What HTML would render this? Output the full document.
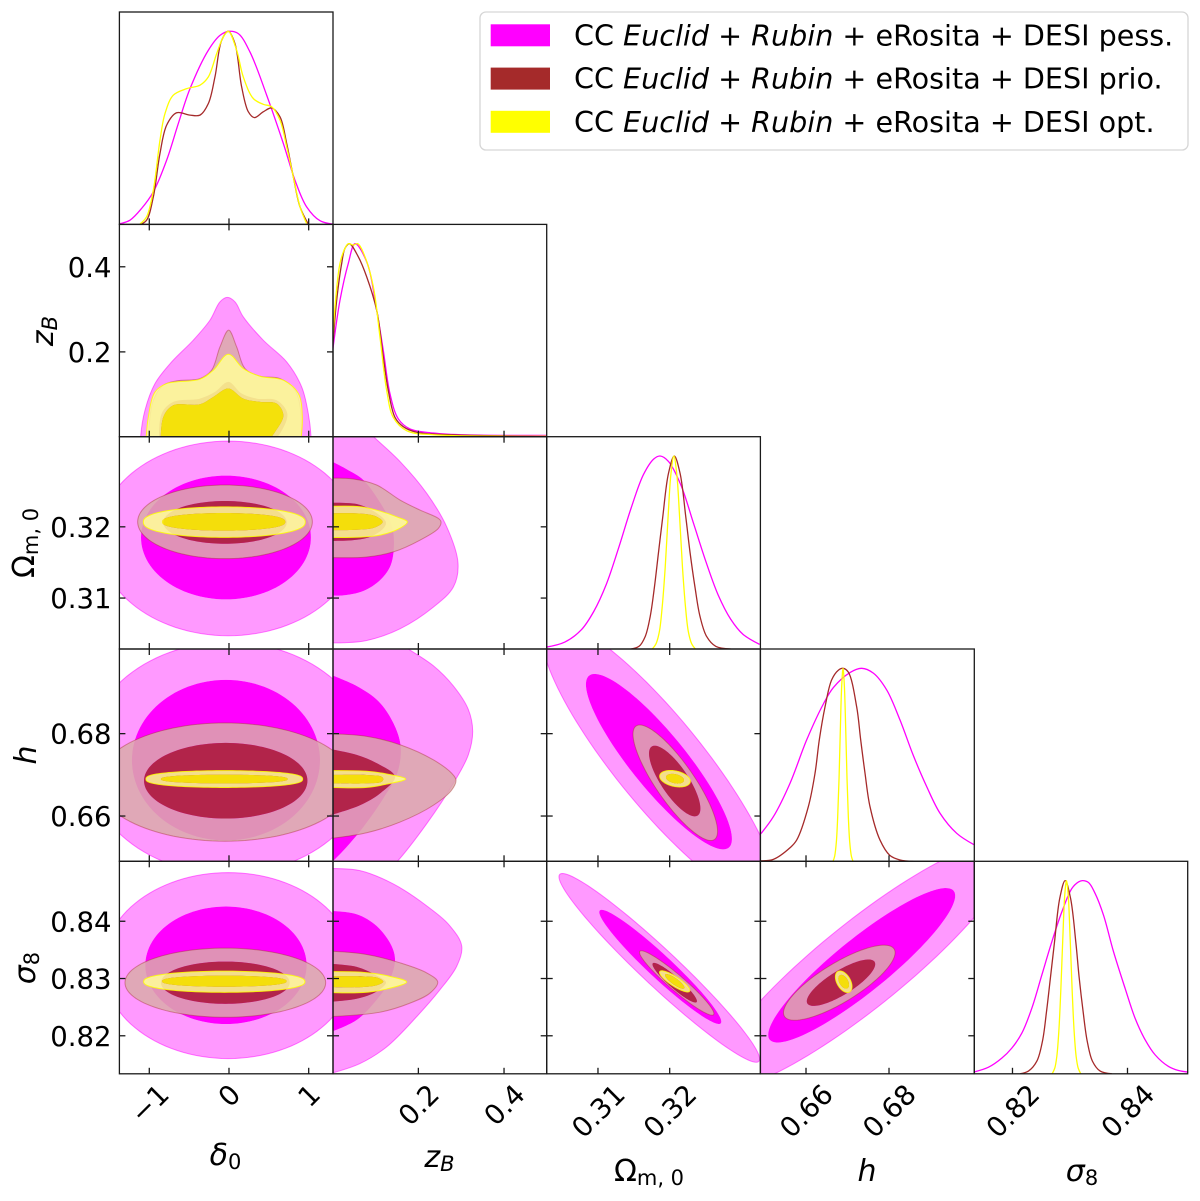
<!DOCTYPE html>
<html lang="en">
<head>
<meta charset="utf-8">
<title>Triangle plot</title>
<style>
html,body{margin:0;padding:0;background:#fff;}
svg{display:block;font-family:"DejaVu Sans","Liberation Sans",sans-serif;fill:#000;}
</style>
</head>
<body>
<svg id="plot" xmlns="http://www.w3.org/2000/svg" width="1200" height="1201" viewBox="0 0 1200 1201">
<g id="panels"></g>
<g id="ticks"></g>
<g font-size="30" text-anchor="middle">
<text x="225.5" y="1165"><tspan font-style="italic">δ</tspan><tspan font-size="21" dy="4">0</tspan></text>
<text x="439.5" y="1167"><tspan font-style="italic">z</tspan><tspan font-size="21" font-style="italic" dy="4">B</tspan></text>
<text x="649" y="1181"><tspan>Ω</tspan><tspan font-size="21" dy="4">m, 0</tspan></text>
<text x="867" y="1181" font-style="italic">h</text>
<text x="1082" y="1181"><tspan font-style="italic">σ</tspan><tspan font-size="21" dy="4">8</tspan></text>
</g>
<g font-size="30" text-anchor="middle">
<text transform="translate(53,331) rotate(-90)"><tspan font-style="italic">z</tspan><tspan font-size="21" font-style="italic" dy="4">B</tspan></text>
<text transform="translate(34,543) rotate(-90)"><tspan>Ω</tspan><tspan font-size="21" dy="4">m, 0</tspan></text>
<text transform="translate(36,755) rotate(-90)" font-style="italic">h</text>
<text transform="translate(35,968) rotate(-90)"><tspan font-style="italic">σ</tspan><tspan font-size="21" dy="4">8</tspan></text>
</g>
<g font-size="28.6">
<rect x="480" y="12" width="708" height="138" rx="6" ry="6" fill="#fff" fill-opacity="0.8" stroke="#d6d6d6" stroke-width="1.3"/>
<g>
<rect x="490.7" y="24.3" width="59.3" height="22" fill="#ff00ff"/>
<text x="574" y="45.5">CC <tspan font-style="italic">Euclid</tspan> + <tspan font-style="italic">Rubin</tspan> + eRosita + DESI pess.</text>
</g>
<g>
<rect x="490.7" y="67.6" width="59.3" height="22" fill="#a52a2a"/>
<text x="574" y="88.7">CC <tspan font-style="italic">Euclid</tspan> + <tspan font-style="italic">Rubin</tspan> + eRosita + DESI prio.</text>
</g>
<g>
<rect x="490.7" y="110.8" width="59.3" height="22" fill="#ffff00"/>
<text x="574" y="131.9">CC <tspan font-style="italic">Euclid</tspan> + <tspan font-style="italic">Rubin</tspan> + eRosita + DESI opt.</text>
</g>
</g>
</svg>
<script>
// ---- axis limits and ticks ----
const deltaDomain = [-1.375, 1.305];
const zDomain = [0.0007, 0.4996];
const omDomain = [0.30285, 0.33265];
const hDomain = [0.64901, 0.70055];
const sDomain = [0.81336, 0.85047];

const deltaTicks = [-1, 0, 1];
const zTicks = [0.2, 0.4];
const omTicks = [0.31, 0.32];
const hTicks = [0.66, 0.68];
const sXTicks = [0.82, 0.84];
const sYTicks = [0.82, 0.83, 0.84];

const deltaTickLabels = ['\u22121', '0', '1'];
const zTickLabels = ['0.2', '0.4'];
const omTickLabels = ['0.31', '0.32'];
const hTickLabels = ['0.66', '0.68'];
const sXTickLabels = ['0.82', '0.84'];
const sYTickLabels = ['0.82', '0.83', '0.84'];

// ---- 1D marginals: [parameter value, normalised density] ----
const deltaCurvePess = [[-1.376,.003],[-1.242,.022],[-1.096,.083],[-.949,.169],[-.782,.333],[-.636,.522],[-.489,.703],[-.259,.902],[-.113,.979],[0,1],[.117,.988],[.263,.893],[.473,.669],[.682,.419],[.828,.229],[.974,.091],[1.142,.019],[1.297,.002]];
const deltaCurvePrio = [[-1.108,0],[-1.033,.022],[-.949,.143],[-.866,.367],[-.782,.514],[-.657,.578],[-.489,.566],[-.364,.566],[-.259,.626],[-.176,.764],[-.092,.953],[-.008,1],[.075,.936],[.159,.712],[.243,.583],[.318,.553],[.43,.583],[.535,.603],[.64,.557],[.724,.419],[.807,.247],[.891,.091],[.995,.002]];
const deltaCurveOpt = [[-1.117,.002],[-1.033,.04],[-.949,.178],[-.866,.436],[-.803,.574],[-.699,.669],[-.531,.703],[-.364,.721],[-.259,.764],[-.155,.884],[-.071,.971],[-.008,1],[.096,.902],[.179,.764],[.305,.652],[.43,.622],[.535,.609],[.64,.54],[.724,.402],[.807,.247],[.891,.091],[.974,.005]];

const zCurvePess = [[0,.447],[.017,.707],[.0364,.898],[.0521,1],[.0794,.906],[.1027,.655],[.1181,.447],[.1338,.222],[.1532,.092],[.1805,.04],[.235,.019],[.3128,.009],[.4996,.007]];
const zCurvePrio = [[0,.464],[.0093,.707],[.021,.898],[.0287,.976],[.0388,1],[.0598,.932],[.0794,.828],[.1027,.655],[.1181,.412],[.1298,.239],[.1455,.1],[.1648,.052],[.1961,.023],[.2739,.01],[.4996,.003]];
const zCurveOpt = [[0,.499],[.0054,.672],[.017,.898],[.0287,.976],[.0364,1],[.0481,.993],[.0583,1],[.0754,.932],[.0949,.776],[.1104,.516],[.1261,.239],[.1415,.1],[.1727,.031],[.235,.01],[.4996,.003]];

const omCurvePess = [[.30283,.01],[.30538,.036],[.30769,.1],[.30942,.195],[.31116,.335],[.31289,.525],[.31462,.73],[.31636,.905],[.3178,.985],[.31867,1],[.31983,.972],[.32156,.85],[.32329,.655],[.32503,.455],[.32676,.28],[.3285,.155],[.33023,.076],[.33254,.024]];
const omCurvePrio = [[.31463,0],[.31573,.014],[.31659,.065],[.31729,.17],[.31787,.32],[.31844,.5],[.31902,.68],[.31983,.91],[.32064,1],[.32145,.91],[.32226,.68],[.32284,.5],[.32353,.32],[.32422,.17],[.32515,.065],[.32642,.014],[.3285,0]];
const omCurveOpt = [[.31757,0],[.31809,.027],[.31856,.09],[.31896,.22],[.31937,.42],[.31977,.68],[.32018,.91],[.32058,1],[.32098,.91],[.32139,.68],[.32179,.42],[.3222,.22],[.3226,.09],[.32307,.027],[.32359,0]];

const hCurvePess = [[.64908,.142],[.65213,.231],[.65614,.404],[.66016,.629],[.66418,.815],[.66659,.9],[.6706,.978],[.67341,1],[.67622,.975],[.67944,.888],[.68265,.732],[.68586,.548],[.68908,.387],[.69229,.249],[.69631,.145],[.70048,.086]];
const hCurvePrio = [[.64908,.003],[.65213,.01],[.65614,.07],[.65775,.11],[.66056,.283],[.66217,.456],[.66321,.63],[.66458,.8],[.66618,.94],[.66779,.99],[.66892,1],[.6702,.98],[.67221,.8],[.67317,.63],[.67422,.456],[.67542,.283],[.67783,.11],[.68024,.03],[.68265,.007],[.68586,0]];
const hCurveOpt = [[.66651,0],[.66691,.027],[.66731,.1],[.66763,.23],[.66796,.43],[.66828,.69],[.6686,.91],[.66892,1],[.66924,.91],[.66956,.69],[.66988,.43],[.6702,.23],[.67053,.1],[.67093,.027],[.67133,0]];

const sCurvePess = [[.81339,.01],[.81583,.034],[.81814,.081],[.81988,.133],[.82162,.21],[.82336,.339],[.8251,.511],[.82684,.683],[.82858,.838],[.83032,.959],[.83148,.993],[.83217,1],[.83322,.99],[.83438,.933],[.83583,.821],[.83757,.632],[.83959,.442],[.84133,.287],[.84307,.176],[.84481,.098],[.84713,.038],[.84887,.017],[.85049,.009]];
const sCurvePrio = [[.82133,0],[.82278,.014],[.82423,.065],[.82522,.17],[.82591,.32],[.82661,.5],[.8273,.68],[.82823,.91],[.82916,1],[.83009,.91],[.83102,.68],[.83159,.5],[.83229,.32],[.83299,.17],[.83391,.065],[.83525,.014],[.83728,0]];
const sCurveOpt = [[.8269,0],[.82736,.03],[.82771,.09],[.82806,.22],[.8284,.43],[.82875,.7],[.8291,.93],[.82939,1],[.82968,.93],[.83003,.7],[.83038,.43],[.83072,.22],[.83107,.09],[.83142,.03],[.83188,0]];

// ---- 2D contours: outer then inner; numeric entries = [mean x, mean y, half-width x, half-height y, correlation, flatness]; otherwise [x, y] points ----
const deltaZPess = [[[-1.108,-.0235],[-1.108,.0016],[-1.054,.0628],[-.928,.1256],[-.719,.1765],[-.448,.2275],[-.238,.2746],[-.113,.3176],[-.021,.328],[.075,.3176],[.179,.2824],[.43,.2275],[.724,.1765],[.912,.1177],[.995,.055],[1.029,.0016],[1.029,-.0235]]];
const deltaZPrio = [[[-1.012,-.0235],[-1,.0315],[-.949,.0863],[-.824,.1216],[-.657,.1318],[-.364,.1373],[-.218,.1569],[-.113,.2118],[-.004,.2511],[.096,.2118],[.201,.1609],[.389,.1428],[.64,.1373],[.828,.1098],[.903,.055],[.891,-.0235]],
  [[-.875,-.0235],[-.845,.055],[-.699,.0824],[-.364,.0903],[-.176,.1059],[-.008,.1294],[.159,.1021],[.347,.0903],[.598,.0863],[.732,.055],[.64,.008],[.473,-.0235]]];
const deltaZOpt = [[[-1.046,-.0235],[-1.012,.0471],[-.928,.1059],[-.782,.1256],[-.364,.1358],[-.197,.1569],[-.008,.1946],[.179,.1609],[.389,.1428],[.682,.1334],[.87,.1021],[.92,.0471],[.891,-.0235]],
  [[-.857,-.0235],[-.824,.0471],[-.699,.0746],[-.364,.0769],[-.197,.0941],[-.008,.1139],[.179,.0903],[.389,.0824],[.598,.0786],[.682,.0511],[.577,.0118],[.43,-.0235]]];

const deltaOmPess = [[-.009,.31837,1.631,.01366,0],[-.038,.3185,1.066,.00869,0]];
const deltaOmPrio = [[-.05,.3207,1.096,.00517,0],[-.05,.32062,.774,.003,0]];
const deltaOmOpt = [[-.059,.32066,1.016,.00214,0,.85],[-.067,.3207,.774,.00124,0,.8]];

const deltaHPess = [[-.009,.67405,1.797,.02815,0],[-.038,.67356,1.18,.0195,0]];
const deltaHPrio = [[-.05,.66825,1.6,.01436,0],[-.041,.66857,1.025,.00918,0]];
const deltaHOpt = [[-.059,.66898,.983,.00204,0,.75],[-.059,.66898,.795,.00106,0,.75]];

const deltaSPess = [[-.009,.83226,1.573,.01624,0],[-.038,.83231,1.012,.01026,0]];
const deltaSPrio = [[-.046,.82927,1.259,.00604,0],[-.046,.82927,.807,.00369,0]];
const deltaSOpt = [[-.059,.82944,1.012,.00185,0,.85],[-.059,.82953,.782,.00097,0,.8]];

const zOmPess = [[[-.01,.33409],[.0715,.33409],[.0949,.33268],[.1572,.32916],[.2195,.3247],[.2662,.32],[.2926,.31484],[.2817,.31155],[.235,.30873],[.1572,.30569],[.0794,.30404],[.0248,.30372],[-.01,.30372]],
  [[-.0063,.3293],[.0327,.32808],[.0715,.32658],[.1143,.32306],[.1377,.32024],[.1431,.31766],[.1354,.31461],[.1104,.3125],[.0715,.31099],[.0248,.31038],[-.0063,.31038]]];
const zOmPrio = [[[-.0063,.32682],[.0481,.32672],[.1027,.32587],[.1572,.32376],[.2038,.32235],[.2466,.32118],[.2529,.3207],[.2466,.31977],[.2038,.31813],[.1415,.31648],[.0794,.31577],[-.0063,.31569]],
  [[-.0063,.32338],[.056,.3232],[.0911,.32235],[.1181,.32118],[.1244,.32056],[.1181,.31977],[.0871,.31859],[.0481,.31813],[-.0063,.31803]]];
const zOmOpt = [[[-.0063,.32287],[.0637,.32282],[.1104,.32221],[.1532,.32132],[.1742,.3207],[.1532,.31968],[.1104,.31883],[.0637,.31855],[-.0063,.31851]],
  [[-.0063,.32189],[.056,.32189],[.0988,.32151],[.1167,.3207],[.0988,.31992],[.056,.31958],[-.0063,.31954]]];

const zHPess = [[[-.01,.70301],[.1415,.70301],[.1727,.70081],[.235,.69648],[.2817,.69158],[.3166,.68588],[.3268,.68056],[.3166,.67486],[.2817,.66793],[.2195,.65814],[.1494,.64884],[.1181,.6459],[-.01,.6459]],
  [[-.0063,.69437],[.056,.69158],[.1065,.68791],[.1415,.68262],[.1588,.67689],[.1508,.67038],[.1181,.66426],[.0715,.65731],[.0248,.6516],[-.0063,.64835]]];
const zHPrio = [[[-.0063,.68],[.0794,.67934],[.1572,.67731],[.235,.67364],[.2778,.67038],[.2879,.66874],[.2778,.66629],[.235,.66262],[.1572,.65853],[.0794,.65594],[-.0063,.65454]],
  [[-.0063,.67625],[.056,.67486],[.1027,.67283],[.1455,.66955],[.1104,.66548],[.0637,.66262],[-.0063,.66017]]];
const zHOpt = [[[-.0063,.67102],[.0794,.67087],[.1261,.67021],[.1704,.66898],[.1261,.66776],[.0794,.66695],[-.0063,.66695]],
  [[-.0063,.66996],[.0794,.66996],[.1143,.66955],[.1181,.66898],[.1143,.66832],[.0794,.66793],[-.0063,.66793]]];

const zSPess = [[[-.0063,.8492],[.0637,.84885],[.1415,.84651],[.2195,.84269],[.2739,.83917],[.3012,.83566],[.2895,.83214],[.2505,.82804],[.1961,.82334],[.1261,.81807],[.0637,.81515],[-.0063,.81339]],
  [[-.0063,.84181],[.056,.84123],[.1027,.83917],[.1377,.83566],[.1455,.83302],[.1298,.82922],[.1027,.82628],[.056,.82276],[-.0063,.8206]]];
const zSPrio = [[[-.0063,.83478],[.0794,.8342],[.1572,.83274],[.2195,.83098],[.2452,.82939],[.2272,.82746],[.1805,.8257],[.1104,.82412],[-.0063,.82334]],
  [[-.0063,.83256],[.056,.83203],[.1027,.8305],[.1244,.82932],[.1027,.82774],[.056,.82646],[-.0063,.82593]]];
const zSOpt = [[[-.0063,.8312],[.0715,.83108],[.1261,.8305],[.1727,.82939],[.1261,.82816],[.0715,.82756],[-.0063,.82756]],
  [[-.0063,.83038],[.0715,.83038],[.1065,.8301],[.1181,.82945],[.1065,.82892],[.0715,.82851],[-.0063,.82851]]];

const omHPess = [[.3185,.6732,.0163,.0341,-.88],[.3185,.6732,.01018,.0213,-.88]];
const omHPrio = [[.32078,.66808,.0059,.01403,-.84],[.3207,.6685,.00358,.00857,-.78]];
const omHOpt = [[.32074,.66906,.00214,.002,-.3],[.32074,.66906,.00126,.00118,-.3]];

const omSPess = [[.31855,.83186,.01399,.01648,-.965],[.31869,.83203,.00851,.00997,-.96]];
const omSPrio = [[.32098,.82922,.00519,.00563,-.95],[.3207,.82927,.0031,.00346,-.93]];
const omSOpt = [[.3207,.8295,.00212,.00185,-.85],[.3207,.8295,.00135,.00128,-.85]];

const hSPess = [[.67342,.83231,.0361,.02158,.9],[.67342,.83231,.02253,.01349,.9]];
const hSPrio = [[.66802,.82927,.01345,.00656,.8],[.66843,.82927,.00824,.00405,.8]];
const hSOpt = [[.66908,.82944,.002,.00188,-.45],[.66908,.82944,.00128,.0012,-.45]];

// ---- layout ----
const SVGNS = 'http://www.w3.org/2000/svg';
const colEdges = [119.4, 333, 546.7, 760.4, 974.3, 1187.7];
const rowEdges = [12, 224.4, 436.7, 649, 861.3, 1073.8];
const domains = [deltaDomain, zDomain, omDomain, hDomain, sDomain];
const paramKeys = ['delta', 'z', 'omega', 'h', 'sigma8'];
const xTickSets = [deltaTicks, zTicks, omTicks, hTicks, sXTicks];
const xLabelSets = [deltaTickLabels, zTickLabels, omTickLabels, hTickLabels, sXTickLabels];
const yTickSets = [deltaTicks, zTicks, omTicks, hTicks, sYTicks];
const yLabelSets = [deltaTickLabels, zTickLabels, omTickLabels, hTickLabels, sYTickLabels];
const seriesKeys = ['pess', 'prio', 'opt'];
const lineColors = ['#ff00ff', '#a52a2a', '#ffff00'];
const ringFills = ['#ff99ff', '#dbaaaa', '#ffff99'];
const coreFills = ['#ff00ff', '#a52a2a', '#ffff00'];
const fillAlpha = [1, 0.85, 0.85];
const edgeAlpha = [0.5, 0.42, 0.85];
const DIAG_HEADROOM = 1.1;

const diagCurves = [
  [deltaCurvePess, deltaCurvePrio, deltaCurveOpt],
  [zCurvePess, zCurvePrio, zCurveOpt],
  [omCurvePess, omCurvePrio, omCurveOpt],
  [hCurvePess, hCurvePrio, hCurveOpt],
  [sCurvePess, sCurvePrio, sCurveOpt]
];
const offDiag = {
  '0-1': [deltaZPess, deltaZPrio, deltaZOpt],
  '0-2': [deltaOmPess, deltaOmPrio, deltaOmOpt],
  '0-3': [deltaHPess, deltaHPrio, deltaHOpt],
  '0-4': [deltaSPess, deltaSPrio, deltaSOpt],
  '1-2': [zOmPess, zOmPrio, zOmOpt],
  '1-3': [zHPess, zHPrio, zHOpt],
  '1-4': [zSPess, zSPrio, zSOpt],
  '2-3': [omHPess, omHPrio, omHOpt],
  '2-4': [omSPess, omSPrio, omSOpt],
  '3-4': [hSPess, hSPrio, hSOpt]
};

function xAxis(col, v) {
  const d = domains[col];
  return colEdges[col] + (v - d[0]) / (d[1] - d[0]) * (colEdges[col + 1] - colEdges[col]);
}
function yAxis(row, v) {
  const d = domains[row];
  return rowEdges[row + 1] - (v - d[0]) / (d[1] - d[0]) * (rowEdges[row + 1] - rowEdges[row]);
}
function densityAxis(row, v) {
  return rowEdges[row + 1] - v / DIAG_HEADROOM * (rowEdges[row + 1] - rowEdges[row]);
}
function make(tag, parent, name, attrs) {
  const el = document.createElementNS(SVGNS, tag);
  
  
  for (const k in attrs) el.setAttribute(k, attrs[k]);
  parent.appendChild(el);
  return el;
}
function rootDist(a, b) {
  return Math.sqrt(Math.hypot(a[0] - b[0], a[1] - b[1]));
}
// centripetal Catmull-Rom through the points
function smoothOpen(p) {
  let d = 'M' + p[0][0].toFixed(2) + ' ' + p[0][1].toFixed(2);
  for (let i = 0; i < p.length - 1; i++) {
    const p0 = p[Math.max(i - 1, 0)], p1 = p[i], p2 = p[i + 1], p3 = p[Math.min(i + 2, p.length - 1)];
    const d1 = rootDist(p0, p1), d2 = rootDist(p1, p2), d3 = rootDist(p2, p3);
    const b1 = [p1[0], p1[1]], b2 = [p2[0], p2[1]];
    if (d1 > 1e-6) {
      const A = 2 * d1 * d1 + 3 * d1 * d2 + d2 * d2, N = 3 * d1 * (d1 + d2);
      b1[0] = (d1 * d1 * p2[0] - d2 * d2 * p0[0] + A * p1[0]) / N;
      b1[1] = (d1 * d1 * p2[1] - d2 * d2 * p0[1] + A * p1[1]) / N;
    }
    if (d3 > 1e-6) {
      const B = 2 * d3 * d3 + 3 * d3 * d2 + d2 * d2, N = 3 * d3 * (d3 + d2);
      b2[0] = (d3 * d3 * p1[0] - d2 * d2 * p3[0] + B * p2[0]) / N;
      b2[1] = (d3 * d3 * p1[1] - d2 * d2 * p3[1] + B * p2[1]) / N;
    }
    d += 'C' + b1[0].toFixed(2) + ' ' + b1[1].toFixed(2) + ' ' + b2[0].toFixed(2) + ' ' + b2[1].toFixed(2) + ' ' +
      p2[0].toFixed(2) + ' ' + p2[1].toFixed(2);
  }
  return d;
}
function contourPath(shape, col, row) {
  if (typeof shape[0] === 'number') {
    const phi = Math.acos(shape[4]);
    const flat = shape.length > 5 ? shape[5] : 1;
    let d = '';
    for (let i = 0; i < 120; i++) {
      const t = i / 120 * 2 * Math.PI;
      const c = Math.cos(t - phi);
      const px = xAxis(col, shape[0] + shape[2] * Math.cos(t));
      const py = yAxis(row, shape[1] + shape[3] * Math.sign(c) * Math.pow(Math.abs(c), flat));
      d += (i ? 'L' : 'M') + px.toFixed(2) + ' ' + py.toFixed(2);
    }
    return d + 'Z';
  }
  return smoothOpen(shape.map(function (q) { return [xAxis(col, q[0]), yAxis(row, q[1])]; })) + 'Z';
}

const root = document.getElementById('plot');
const panelsG = document.getElementById('panels');
const ticksG = document.getElementById('ticks');
const defs = document.createElementNS(SVGNS, 'defs');
root.insertBefore(defs, root.firstChild);

function tickLine(parent, name, x1, y1, x2, y2) {
  make('line', parent, name, { x1: x1, y1: y1, x2: x2, y2: y2, stroke: '#1a1a1a', 'stroke-width': 1.3 });
}

for (let row = 0; row < 5; row++) {
  for (let col = 0; col <= row; col++) {
    const x0 = colEdges[col], x1 = colEdges[col + 1], y0 = rowEdges[row], y1 = rowEdges[row + 1];
    const id = paramKeys[col] + '-' + paramKeys[row];
    const clip = document.createElementNS(SVGNS, 'clipPath');
    clip.setAttribute('id', 'clip-' + id);
    const cr = document.createElementNS(SVGNS, 'rect');
    cr.setAttribute('x', x0);
    cr.setAttribute('y', y0);
    cr.setAttribute('width', x1 - x0);
    cr.setAttribute('height', y1 - y0);
    clip.appendChild(cr);
    defs.appendChild(clip);
    const g = make('g', panelsG, 'panel-' + id, { 'clip-path': 'url(#clip-' + id + ')' });

    if (col === row) {
      diagCurves[col].forEach(function (curve, s) {
        const pts = curve.map(function (q) { return [xAxis(col, q[0]), densityAxis(row, q[1])]; });
        make('path', g, 'curve-' + paramKeys[col] + '-' + seriesKeys[s], {
          d: smoothOpen(pts), fill: 'none', stroke: lineColors[s], 'stroke-width': 1.3
        });
      });
    } else {
      offDiag[col + '-' + row].forEach(function (levels, s) {
        const outer = contourPath(levels[0], col, row);
        const inner = levels[1] ? contourPath(levels[1], col, row) : '';
        make('path', g, 'contour-outer-' + id + '-' + seriesKeys[s], {
          d: outer + inner, fill: ringFills[s], 'fill-opacity': fillAlpha[s], 'fill-rule': 'evenodd', stroke: 'none'
        });
        if (inner) {
          make('path', g, 'contour-inner-' + id + '-' + seriesKeys[s], {
            d: inner, fill: coreFills[s], 'fill-opacity': fillAlpha[s], stroke: 'none'
          });
        }
        make('path', g, 'contour-edge-' + id + '-' + seriesKeys[s], {
          d: outer, fill: 'none', stroke: lineColors[s], 'stroke-opacity': edgeAlpha[s], 'stroke-width': 1
        });
      });
    }

    const LEN = 6;
    xTickSets[col].forEach(function (v) {
      const px = xAxis(col, v);
      tickLine(ticksG, 'x-tick-' + id, px, y1, px, y1 - LEN);
      if (col !== row) tickLine(ticksG, 'x-tick-top-' + id, px, y0, px, y0 + LEN);
    });
    if (col !== row) {
      yTickSets[row].forEach(function (v) {
        const py = yAxis(row, v);
        tickLine(ticksG, 'y-tick-' + id, x0, py, x0 + LEN, py);
        tickLine(ticksG, 'y-tick-right-' + id, x1, py, x1 - LEN, py);
      });
    }
    make('rect', ticksG, 'panel-frame-' + id, {
      x: x0, y: y0, width: x1 - x0, height: y1 - y0, fill: 'none', stroke: '#1a1a1a', 'stroke-width': 1.3
    });
  }
}

// tick labels
const labelG = make('g', ticksG, 'tick-labels', { 'font-size': 27.5 });
for (let row = 1; row < 5; row++) {
  yTickSets[row].forEach(function (v, i) {
    const t = make('text', labelG, 'y-tick-label-' + paramKeys[row], {
      x: 111.5, y: (yAxis(row, v) + 10).toFixed(2), 'text-anchor': 'end'
    });
    t.textContent = yLabelSets[row][i];
  });
}
for (let col = 0; col < 5; col++) {
  xTickSets[col].forEach(function (v, i) {
    const t = make('text', labelG, 'x-tick-label-' + paramKeys[col], { x: 0, y: 10, 'text-anchor': 'middle' });
    t.textContent = xLabelSets[col][i];
    const w = t.getComputedTextLength();
    const cy = 1082 + (w + 20) * 0.3536;
    t.setAttribute('transform', 'translate(' + xAxis(col, v).toFixed(2) + ',' + cy.toFixed(2) + ') rotate(-45)');
  });
}
</script>
</body>
</html>
